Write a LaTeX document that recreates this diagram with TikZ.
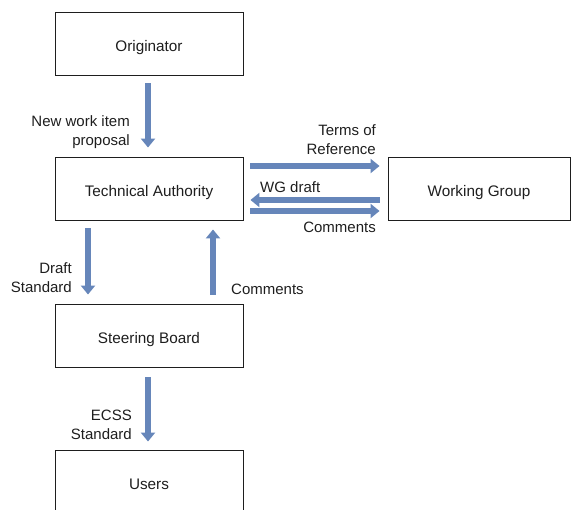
\documentclass[tikz,border=0pt]{standalone}
\usepackage{fontspec}
\setmainfont{Liberation Sans}
\usetikzlibrary{arrows.meta,calc}
\definecolor{arr}{RGB}{102,134,186}
\definecolor{ink}{RGB}{30,30,30}
\begin{document}
\begin{tikzpicture}[x=1pt,y=-1pt,
  box/.style={draw=ink, line width=0.9pt, minimum width=188pt, minimum height=63pt, inner sep=0pt, text height=16pt, text depth=0pt, text=ink, font=\fontsize{15.3}{18}\selectfont},
  lbl/.style={inner sep=0pt, text=ink, font=\fontsize{15}{19}\selectfont},
  flow/.style={draw=arr, line width=6.5pt, -{Triangle[width=14pt,length=9pt]}}]
\useasboundingbox (0,0) rectangle (572,510);
\clip (0,0) rectangle (572,510);
\node[box] (orig) at (149,43.5) {Originator};
\node[box] (ta) at (149,188.5) {Technical Authority};
\node[box, minimum width=182pt] (wg) at (479,188.5) {Working Group};
\node[box] (sb) at (149,335.5) {Steering Board};
\node[box] (users) at (149,481.5) {Users};
% arrows
\draw[flow] ($(orig.south)+(-1,8)$) -- ($(ta.north)+(-1,-9)$);
\draw[flow] ($(ta.east)+(7,-22.5)$) -- ($(wg.west)+(-8,-22.5)$);
\draw[flow] ($(wg.west)+(-8,11.5)$) -- ($(ta.east)+(7,11.5)$);
\draw[flow] ($(ta.east)+(7,22.5)$) -- ($(wg.west)+(-8,22.5)$);
\draw[flow] ($(ta.south)+(-61,8)$) -- ($(sb.north)+(-61,-9)$);
\draw[flow] ($(sb.north)+(64,-9)$) -- ($(ta.south)+(64,9)$);
\draw[flow] ($(sb.south)+(-1,10)$) -- ($(users.north)+(-1,-8)$);
% labels
\node[lbl, anchor=east, align=right] (l1) at (130,132) {New work item\\proposal};
\node[lbl, anchor=east, align=right] (l2) at (376,140) {Terms of\\Reference};
\node[lbl, anchor=west] (l3) at (260,187) {WG draft};
\node[lbl, anchor=east] (l4) at (376,227) {Comments};
\node[lbl, anchor=east, align=right] (l5) at (72,278) {Draft\\Standard};
\node[lbl, anchor=west] (l6) at (231,289) {Comments};
\node[lbl, anchor=east, align=right] (l7) at (132,425) {ECSS\\Standard};
\end{tikzpicture}
\end{document}
